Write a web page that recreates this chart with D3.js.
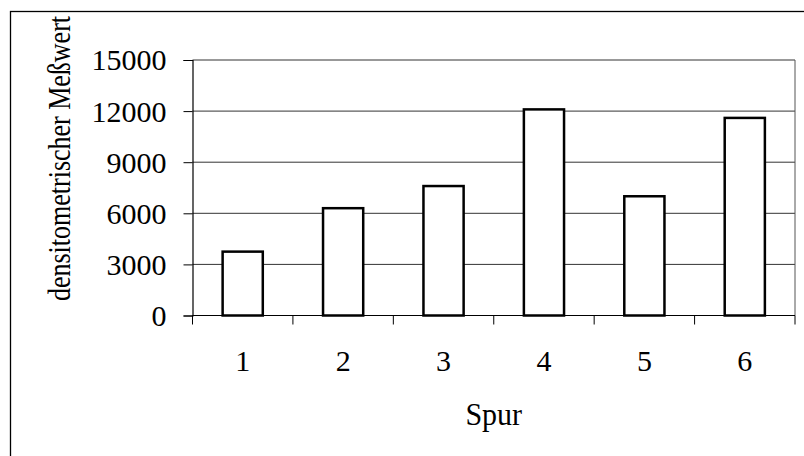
<!DOCTYPE html>
<html>
<head>
<meta charset="utf-8">
<script src="https://cdn.jsdelivr.net/npm/d3@7"></script>
<style>
  body { margin: 0; background: #fff; }
  svg { display: block; }
  text { font-family: "Liberation Serif", "Times New Roman", serif; fill: #000; }
</style>
</head>
<body>
<svg width="804" height="456"></svg>
<script>
// data
const lanes = ["1", "2", "3", "4", "5", "6"];
const values = [3750, 6300, 7600, 12100, 7000, 11600];
const yTicks = [0, 3000, 6000, 9000, 12000, 15000];

const width = 804, height = 456;
const margin = { top: 60, right: 9, bottom: 140.5, left: 192.5 };

const svg = d3.select("svg");

// outer chart frame (right and bottom edges fall outside the picture)
svg.append("rect")
  .attr("x", 10.5).attr("y", 11.5)
  .attr("width", 820).attr("height", 470)
  .attr("fill", "none")
  .attr("stroke", "#000")
  .attr("stroke-width", 1.3);

const x = d3.scaleBand()
  .domain(lanes)
  .range([margin.left, width - margin.right])
  .paddingInner(0.6)
  .paddingOuter(0.3);

const y = d3.scaleLinear()
  .domain([0, 15000])
  .range([height - margin.bottom, margin.top]);

// gridlines
svg.append("g")
  .selectAll("line")
  .data(yTicks)
  .join("line")
    .attr("x1", margin.left)
    .attr("x2", width - margin.right)
    .attr("y1", d => y(d))
    .attr("y2", d => y(d))
    .attr("stroke", "#333")
    .attr("stroke-width", 1);

// plot area frame, right side
svg.append("line")
  .attr("x1", width - margin.right).attr("x2", width - margin.right)
  .attr("y1", margin.top).attr("y2", y(0))
  .attr("stroke", "#555");

// bars
svg.append("g")
  .selectAll("rect")
  .data(values)
  .join("rect")
    .attr("x", (d, i) => x(lanes[i]))
    .attr("y", d => y(d))
    .attr("width", x.bandwidth())
    .attr("height", d => y(0) - y(d))
    .attr("fill", "#fff")
    .attr("stroke", "#000")
    .attr("stroke-width", 2.5);

// y axis
const yAxis = svg.append("g")
  .attr("transform", `translate(${margin.left},0)`)
  .call(d3.axisLeft(y).tickValues(yTicks).tickFormat(d3.format("d")).tickSize(9).tickPadding(17));
yAxis.select(".domain").attr("stroke", "#000").attr("stroke-width", 1.2);
yAxis.selectAll(".tick line").attr("stroke", "#000");
yAxis.selectAll("text")
  .attr("font-size", 30)
  .attr("font-family", "Liberation Serif")
  .attr("dy", "0.33em");

// x axis: ticks sit on the category boundaries
const step = x.step();
const bounds = d3.range(lanes.length + 1).map(i => margin.left + i * step);
const xAxis = svg.append("g");
xAxis.append("line")
  .attr("x1", margin.left).attr("x2", width - margin.right)
  .attr("y1", y(0)).attr("y2", y(0))
  .attr("stroke", "#000").attr("stroke-width", 1.2);
xAxis.selectAll("line.tick")
  .data(bounds)
  .join("line")
    .attr("class", "tick")
    .attr("x1", d => d).attr("x2", d => d)
    .attr("y1", y(0)).attr("y2", y(0) + 9)
    .attr("stroke", "#000");
xAxis.selectAll("text")
  .data(lanes)
  .join("text")
    .attr("x", d => x(d) + x.bandwidth() / 2)
    .attr("y", 371)
    .attr("text-anchor", "middle")
    .attr("font-size", 30)
    .text(d => d);

// axis titles
svg.append("text")
  .attr("transform", `translate(${(margin.left + width - margin.right) / 2},425) scale(1,1.08)`)
  .attr("text-anchor", "middle")
  .attr("font-size", 30)
  .text("Spur");

svg.append("text")
  .attr("transform", "translate(70,158.5) rotate(-90) scale(1,1.2)")
  .attr("text-anchor", "middle")
  .attr("font-size", 26)
  .text("densitometrischer Meßwert");
</script>
</body>
</html>
